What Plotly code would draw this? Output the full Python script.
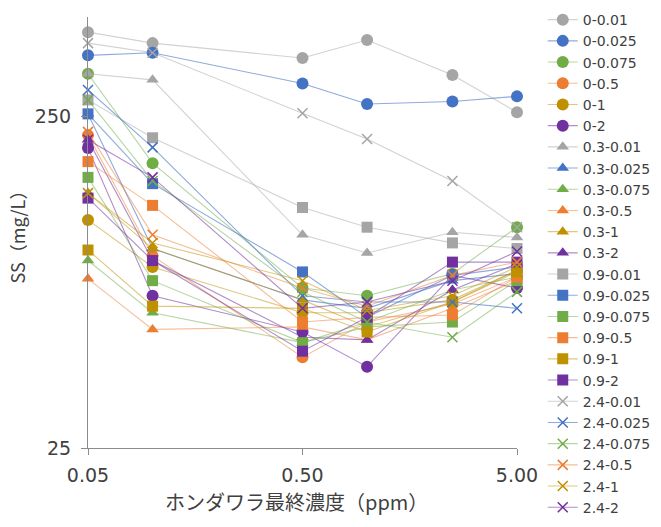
import numpy as np
import plotly.graph_objects as go

x_vals = [0.05, 0.1, 0.5, 1.0, 2.5, 5.0]

series_names = [
    "0-0.01", "0-0.025", "0-0.075", "0-0.5", "0-1", "0-2",
    "0.3-0.01", "0.3-0.025", "0.3-0.075", "0.3-0.5", "0.3-1", "0.3-2",
    "0.9-0.01", "0.9-0.025", "0.9-0.075", "0.9-0.5", "0.9-1", "0.9-2",
    "2.4-0.01", "2.4-0.025", "2.4-0.075", "2.4-0.5", "2.4-1", "2.4-2",
]

s_0_001 = [450, 417, 376, 426, 334, 258]
s_0_0025 = [383, 390, 315, 273, 278, 288]
s_0_0075 = [337, 181, 76, 72, 84, 116]
s_0_05 = [220, 95, 47, 60, 68, 82]
s_0_1 = [122, 88, 64, 64, 70, 86]
s_0_2 = [201, 72, 56, 44, 83, 76]

s_03_001 = [337, 323, 110, 97, 112, 108]
s_03_0025 = [255, 100, 70, 66, 80, 84]
s_03_0075 = [92, 64, 52, 60, 75, 82]
s_03_05 = [81, 57, 58, 53, 66, 80]
s_03_1 = [147, 100, 70, 58, 69, 86]
s_03_2 = [213, 92, 54, 53, 75, 90]

s_09_001 = [281, 216, 133, 116, 104, 100]
s_09_0025 = [255, 157, 85, 62, 83, 88]
s_09_0075 = [164, 80, 52, 58, 60, 80]
s_09_05 = [183, 135, 60, 62, 63, 82]
s_09_1 = [99, 67, 66, 56, 69, 85]
s_09_2 = [142, 92, 49, 62, 91, 91]

s_24_001 = [417, 390, 256, 214, 160, 116]
s_24_0025 = [301, 202, 72, 69, 69, 66]
s_24_0075 = [281, 160, 74, 60, 54, 74]
s_24_05 = [225, 110, 76, 67, 83, 91]
s_24_1 = [147, 104, 80, 65, 72, 88]
s_24_2 = [213, 164, 66, 69, 80, 98]

series_values = [
    s_0_001, s_0_0025, s_0_0075, s_0_05, s_0_1, s_0_2,
    s_03_001, s_03_0025, s_03_0075, s_03_05, s_03_1, s_03_2,
    s_09_001, s_09_0025, s_09_0075, s_09_05, s_09_1, s_09_2,
    s_24_001, s_24_0025, s_24_0075, s_24_05, s_24_1, s_24_2,
]

x_tick_vals = [0.05, 0.5, 5.0]
x_tick_text = ["0.05", "0.50", "5.00"]
y_tick_vals = [25, 250]
y_tick_text = ["25", "250"]

x_title = "ホンダワラ最終濃度（ppm）"
y_title = "SS（mg/L）"

colors = ["#A5A5A5", "#4472C4", "#70AD47", "#ED7D31", "#BF9000", "#7030A0"]
line_colors = ["rgba(165,165,165,0.5)", "rgba(68,114,196,0.6)", "rgba(112,173,71,0.5)",
               "rgba(237,125,49,0.5)", "rgba(191,144,0,0.5)", "rgba(112,48,160,0.55)"]
symbols = ["circle", "triangle-up", "square", "x-thin-open"]
sizes = [12, 11, 11, 10]

fig = go.Figure()
for i, (name, vals) in enumerate(zip(series_names, series_values)):
    g = i // 6
    c = i % 6
    sym = symbols[g]
    marker = dict(symbol=sym, size=sizes[g], color=colors[c])
    if sym == "x-thin-open":
        marker["line"] = dict(color=colors[c], width=1.5)
    else:
        marker["line"] = dict(width=0)
    fig.add_trace(go.Scatter(
        x=x_vals, y=vals, name=name, mode="lines+markers",
        line=dict(color=line_colors[c], width=1.1),
        marker=marker, cliponaxis=False,
    ))

fig.update_layout(
    width=661, height=527,
    margin=dict(l=88, r=144, t=17, b=79, autoexpand=False),
    paper_bgcolor="white", plot_bgcolor="white",
    font=dict(family="DejaVu Sans, sans-serif", color="#404040"),
    legend=dict(
        x=1.06, y=1.03, xanchor="left", yanchor="top",
        font=dict(size=14, color="#404040", family="DejaVu Sans"), tracegroupgap=0,
        itemwidth=30, bgcolor="rgba(0,0,0,0)", maxheight=1.0,
    ),
    showlegend=True,
    annotations=[dict(
        text=x_title, xref="paper", yref="paper", x=0.487, y=-0.125,
        xanchor="center", yanchor="middle", showarrow=False,
        font=dict(family="Noto Sans CJK JP", size=20, color="#404040"),
    )],
)
fig.update_xaxes(
    type="log", range=[np.log10(0.05), np.log10(5.0)],
    tickvals=x_tick_vals, ticktext=x_tick_text,
    showgrid=False, zeroline=False,
    showline=True, linecolor="#8c8c8c", linewidth=1.2,
    ticks="outside", ticklen=6, tickcolor="#8c8c8c",
    ticklabelstandoff=4,
    tickfont=dict(size=19, color="#404040", family="DejaVu Sans"),
)
fig.update_yaxes(
    type="log", range=[np.log10(25), np.log10(500)],
    tickvals=y_tick_vals, ticktext=y_tick_text,
    showgrid=False, zeroline=False,
    showline=True, linecolor="#8c8c8c", linewidth=1.2,
    ticks="outside", ticklen=6, tickcolor="#8c8c8c",
    ticklabelstandoff=6,
    tickfont=dict(size=19, color="#404040", family="DejaVu Sans"),
    title=dict(text=y_title, font=dict(family="Noto Sans CJK JP", size=18, color="#404040"), standoff=4),
)

fig.write_html("out.html")
